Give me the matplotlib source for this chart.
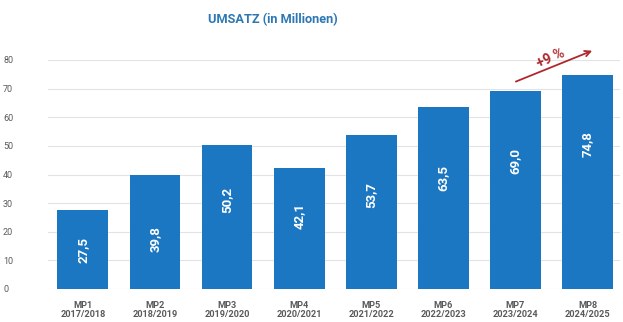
import matplotlib
matplotlib.use("Agg")
import matplotlib.pyplot as plt

categories = ["MP1\n2017/2018", "MP2\n2018/2019", "MP3\n2019/2020", "MP4\n2020/2021",
              "MP5\n2021/2022", "MP6\n2022/2023", "MP7\n2023/2024", "MP8\n2024/2025"]
values = [27.5, 39.8, 50.2, 42.1, 53.7, 63.5, 69.0, 74.8]
value_labels = ["27,5", "39,8", "50,2", "42,1", "53,7", "63,5", "69,0", "74,8"]
yticks = [0, 10, 20, 30, 40, 50, 60, 70, 80]
growth_label = "+9 %"
# vertical placement of the in-bar value labels (in data units), as in the original
label_pos = [13.6, 17.4, 31.2, 25.4, 32.7, 38.9, 44.8, 50.7]

plt.rcParams['font.family'] = ['Roboto', 'DejaVu Sans']

fig = plt.figure(figsize=(6.23, 3.22), dpi=100)
ax = fig.add_axes([47.5/623, 1-289/322, (620-47.5)/623, (289-60)/322])

bar_color = "#1b77c1"
x = list(range(len(values)))
ax.bar(x, values, width=0.705, color=bar_color, zorder=3)

for xi, yp, lab in zip(x, label_pos, value_labels):
    ax.text(xi, yp, lab, rotation=90, ha='center', va='center', color='white',
            fontsize=9.5, fontweight='bold', zorder=4)

ax.set_xlim(-0.49, 7.45)
ax.set_ylim(0, 80)
ax.set_yticks(yticks)
ax.set_yticklabels([str(t) for t in yticks], ha='left')
ax.tick_params(axis='y', length=0, pad=32, labelsize=6.5, labelcolor='#5a5a5a')
ax.set_xticks(x)
ax.set_xticklabels(categories, fontweight='bold', fontsize=6.6, color='#5a5a5a', linespacing=1.05)
ax.tick_params(axis='x', length=0, pad=8.5)
ax.grid(axis='y', color='#e3e3e3', linewidth=0.8, zorder=0)
for s in ax.spines.values():
    s.set_visible(False)

fig.text(273/623, 1-19.5/322, "UMSATZ (in Millionen)", ha='center', va='center',
         color='#2c77b4', fontsize=9.2, fontweight='bold')

red = "#b0282d"
ax.annotate("", xy=(7.10, 83.6), xytext=(5.97, 72.1),
            arrowprops=dict(arrowstyle='->', color=red, lw=1.3, mutation_scale=10),
            annotation_clip=False)
ax.text(6.49, 80.6, growth_label, rotation=24, ha='center', va='center', color=red,
        fontsize=10, fontweight='bold', clip_on=False)

fig.savefig("out.png", dpi=100, facecolor='white')
